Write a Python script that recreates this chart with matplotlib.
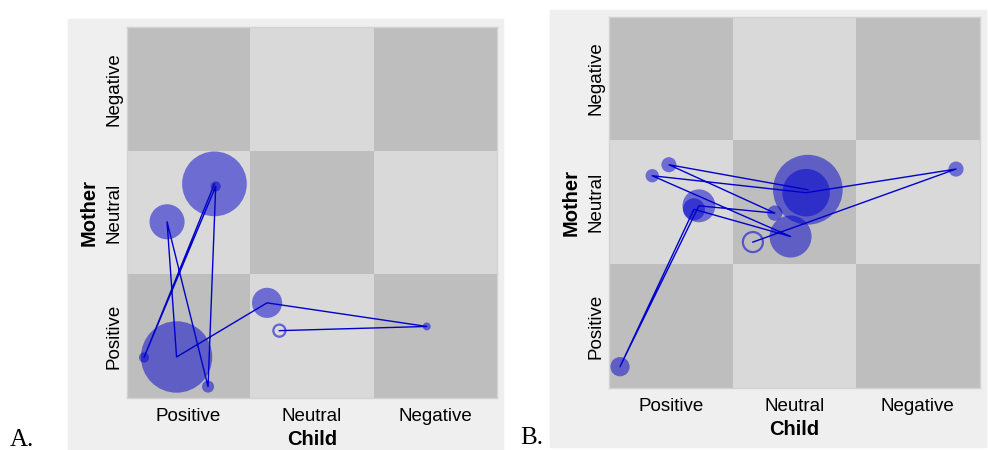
import numpy as np
import matplotlib.pyplot as plt
from matplotlib.patches import Circle, Rectangle
from matplotlib.colors import ListedColormap

plt.rcParams['font.family'] = ['Liberation Sans', 'DejaVu Sans']

# the data: emotional states, grid cell = 1 unit
states = ['Positive', 'Neutral', 'Negative']

# panel A trajectory (child x, mother y, duration), in visit order
a_x = [0.711, 0.140, 0.721, 0.659, 0.327, 0.404, 1.137, 2.431, 1.237]
a_y = [1.733, 0.328, 1.712, 0.092, 1.426, 0.332, 0.770, 0.579, 0.545]
a_dur = [26.2, 4.1, 4.1, 4.9, 14.2, 28.9, 12.2, 3.2, 4.9]

# panel B trajectory
b_x = [1.610, 0.485, 1.343, 0.728, 0.089, 0.688, 1.470, 0.350, 1.596, 2.810, 1.165]
b_y = [1.602, 1.804, 1.413, 1.472, 0.172, 1.444, 1.224, 1.715, 1.578, 1.769, 1.179]
b_dur = [28.2, 6.1, 6.2, 13.3, 7.8, 8.9, 17.0, 5.4, 19.2, 6.1, 8.1]

W, H = 988, 450
fig = plt.figure(figsize=(W / 100, H / 100), dpi=100)

blue = '#0000CD'
checker = ListedColormap(['#D9D9D9', '#BEBEBE'])


def panel(bg, grid, x, y, dur, letter, letter_pos):
    # light panel background
    fig.patches.append(Rectangle((bg[0] / W, 1 - bg[3] / H), (bg[2] - bg[0]) / W,
                                 (bg[3] - bg[1]) / H, transform=fig.transFigure,
                                 color='#EFEFEF', zorder=-10))
    ax = fig.add_axes([grid[0] / W, 1 - grid[3] / H, (grid[2] - grid[0]) / W,
                       (grid[3] - grid[1]) / H])
    ii, jj = np.indices((3, 3))
    ax.pcolormesh(np.arange(4), np.arange(4), (ii + jj + 1) % 2, cmap=checker,
                  vmin=0, vmax=1)
    ax.set_xlim(0, 3)
    ax.set_ylim(0, 3)

    # nodes: last one is the hollow end marker
    for k in range(len(x)):
        r = dur[k] / 100
        if k == len(x) - 1:
            ax.add_patch(Circle((x[k], y[k]), r, facecolor='none', edgecolor=blue,
                                alpha=0.55, lw=1.6, zorder=3))
        else:
            ax.add_patch(Circle((x[k], y[k]), r, facecolor=blue, alpha=0.5,
                                lw=0, zorder=2))
    ax.plot(x, y, color=blue, lw=1.0, zorder=4)

    ax.set_xticks([0.5, 1.5, 2.5])
    ax.set_xticklabels(states, fontsize=13.5)
    ax.set_yticks([0.5, 1.5, 2.5])
    ax.set_yticklabels(states, fontsize=13.5, rotation=90, va='center')
    ax.tick_params(length=0)
    ax.tick_params(axis='x', pad=7)
    ax.tick_params(axis='y', pad=3)
    ax.set_xlabel('Child', fontsize=14.5, fontweight='bold', labelpad=4)
    ax.set_ylabel('Mother', fontsize=14.5, fontweight='bold', labelpad=5)
    for s in ax.spines.values():
        s.set_color('#D2D2D2')
        s.set_linewidth(1)
    fig.text(letter_pos[0] / W, 1 - letter_pos[1] / H, letter, fontsize=18,
             family='Liberation Serif', va='baseline')
    return ax


panel((68, 19.3, 503, 452), (126.7, 27.3, 497, 398), a_x, a_y, a_dur, 'A.', (10, 446))
panel((550, 10, 985.5, 446.7), (609, 16.7, 979.5, 388), b_x, b_y, b_dur, 'B.', (520, 444))

fig.savefig('out.png', dpi=100)
